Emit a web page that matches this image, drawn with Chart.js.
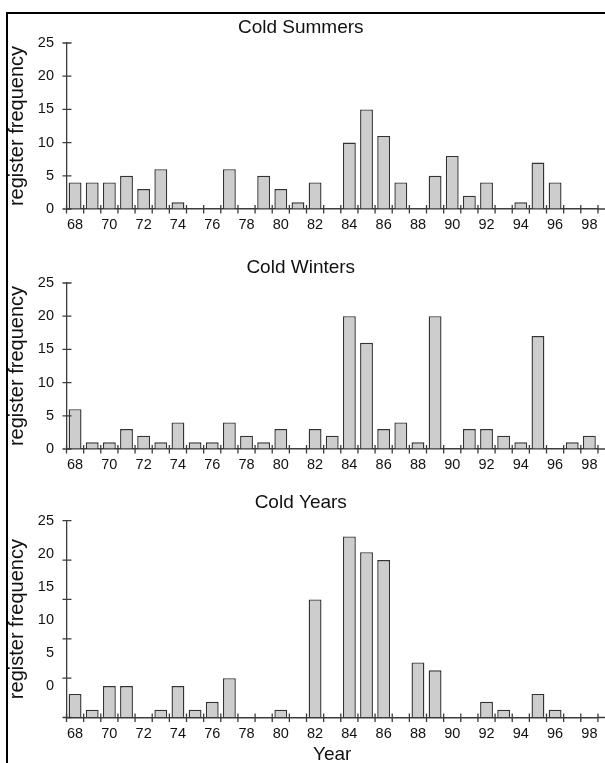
<!DOCTYPE html>
<html>
<head>
<meta charset="utf-8">
<script src="https://cdn.jsdelivr.net/npm/chart.js@4/dist/chart.umd.min.js"></script>
<style>
  html, body { margin: 0; padding: 0; background: #fff; overflow: hidden; }
  #page { position: relative; width: 605px; height: 763px; }
  canvas { position: absolute; left: 0; }
  .rule { position: absolute; background: #000; }
</style>
</head>
<body>
<div id="page">
  <canvas id="summers" width="605" height="240" style="top:0"></canvas>
  <canvas id="winters" width="605" height="240" style="top:240px"></canvas>
  <canvas id="years" width="605" height="283" style="top:480px"></canvas>
  <div class="rule" style="left:6px; top:12px; width:599px; height:2px"></div>
  <div class="rule" style="left:6px; top:12px; width:2px; height:751px"></div>
</div>
<script>
// Years 1968-1998 (two-digit labels)
const years = ['68','69','70','71','72','73','74','75','76','77','78','79','80','81','82','83',
               '84','85','86','87','88','89','90','91','92','93','94','95','96','97','98'];

// Register frequency per year
const coldSummers = [4,4,4,5,3,6,1,0,0,6,0,5,3,1,4,0,10,15,11,4,0,5,8,2,4,0,1,7,4,0,0];
const coldWinters = [6,1,1,3,2,1,4,1,1,4,2,1,3,0,3,2,20,16,3,4,1,20,0,3,3,2,1,17,0,1,2];
const coldYears   = [3,1,4,4,0,1,4,1,2,5,0,0,1,0,15,0,23,21,20,0,7,6,0,0,2,1,0,3,1,0,0];

// Y tick labels
const yTickValues = [0, 5, 10, 15, 20, 25];

const FONT = "'Liberation Sans', Arial, Helvetica, sans-serif";
const INK = '#111';
const AXIS = '#3c3c3c';

// Tick marks that cross the axis lines (both sides), plus the axis run-out on the right
const crossTicks = {
  id: 'crossTicks',
  afterDraw(chart) {
    const { ctx } = chart;
    const xs = chart.scales.x, ys = chart.scales.y;
    ctx.save();
    ctx.strokeStyle = AXIS;
    ctx.lineWidth = 1.3;
    ctx.beginPath();
    const n = xs.ticks.length;
    for (let k = 0; k <= n; k++) {
      const x = xs.left + k * (xs.right - xs.left) / n;
      ctx.moveTo(x, xs.top - 4);
      ctx.lineTo(x, xs.top + 4.5);
    }
    ctx.moveTo(xs.right, xs.top);
    ctx.lineTo(chart.width, xs.top);
    ys.ticks.forEach((t, i) => {
      const y = ys.getPixelForTick(i);
      ctx.moveTo(ys.right - 4, y);
      ctx.lineTo(ys.right + 5, y);
    });
    ctx.stroke();
    ctx.restore();
  }
};

function makePanel(id, title, values, cfg) {
  const xScale = {
    type: 'category',
    offset: true,
    grid: { display: true, offset: true, drawOnChartArea: false, drawTicks: false },
    border: { display: true, color: AXIS, width: 1.4 },
    ticks: {
      autoSkip: false, maxRotation: 0, minRotation: 0, padding: 7.5,
      color: INK, font: { family: FONT, size: 14.5 },
      callback: (v, i) => (i % 2 === 0 ? years[i] : '')
    },
    afterFit: s => { s.height = cfg.xHeight; }
  };
  if (cfg.xTitle) {
    xScale.title = {
      display: true, text: cfg.xTitle, color: INK,
      font: { family: FONT, size: 19, lineHeight: 0.9 },
      padding: { top: 0, bottom: 0 }
    };
  }
  return new Chart(document.getElementById(id), {
    type: 'bar',
    data: {
      labels: years,
      datasets: [{
        data: values,
        backgroundColor: '#cdcdcd',
        borderColor: '#333',
        borderWidth: 1.4,
        borderSkipped: 'bottom',
        categoryPercentage: 1,
        barPercentage: 0.75
      }]
    },
    options: {
      responsive: false,
      animation: false,
      devicePixelRatio: 1,
      layout: { padding: { left: 0, right: 3.5, top: 0, bottom: 0 } },
      plugins: {
        legend: { display: false },
        tooltip: { enabled: false },
        title: {
          display: true, text: title, color: INK,
          font: { family: FONT, size: 19, weight: 'normal', lineHeight: 1.2 },
          padding: cfg.titlePad
        }
      },
      scales: {
        x: xScale,
        y: {
          type: 'linear', position: 'left', weight: 0,
          min: 0, max: 25,
          grid: { display: true, drawOnChartArea: false, drawTicks: false },
          border: { display: true, color: AXIS, width: 1.3 },
          ticks: { display: false, stepSize: 5 },
          afterBuildTicks: s => { s.ticks = yTickValues.map(v => ({ value: v })); },
          afterFit: s => { s.width = 4; }
        },
        yl: {
          type: 'linear', position: 'left', weight: 1,
          min: cfg.labelMin, max: 25,
          grid: { display: false, drawTicks: false },
          border: { display: false },
          ticks: { color: INK, font: { family: FONT, size: 14.5 }, padding: 8.5 },
          afterBuildTicks: s => { s.ticks = yTickValues.map(v => ({ value: v })); },
          title: {
            display: true, text: 'register frequency', color: INK,
            font: { family: FONT, size: 20 },
            padding: { top: 5.5, bottom: 0 }
          },
          afterFit: s => { s.width = 62.5; }
        }
      }
    },
    plugins: [crossTicks]
  });
}

makePanel('summers', 'Cold Summers', coldSummers,
  { titlePad: { top: 16.6, bottom: 3.6 }, xHeight: 31, labelMin: 0 });
makePanel('winters', 'Cold Winters', coldWinters,
  { titlePad: { top: 16.6, bottom: 3.6 }, xHeight: 31, labelMin: 0 });
makePanel('years', 'Cold Years', coldYears,
  { titlePad: { top: 11.6, bottom: 6.3 }, xHeight: 45.5, labelMin: -4.76, xTitle: 'Year' });
</script>
</body>
</html>
